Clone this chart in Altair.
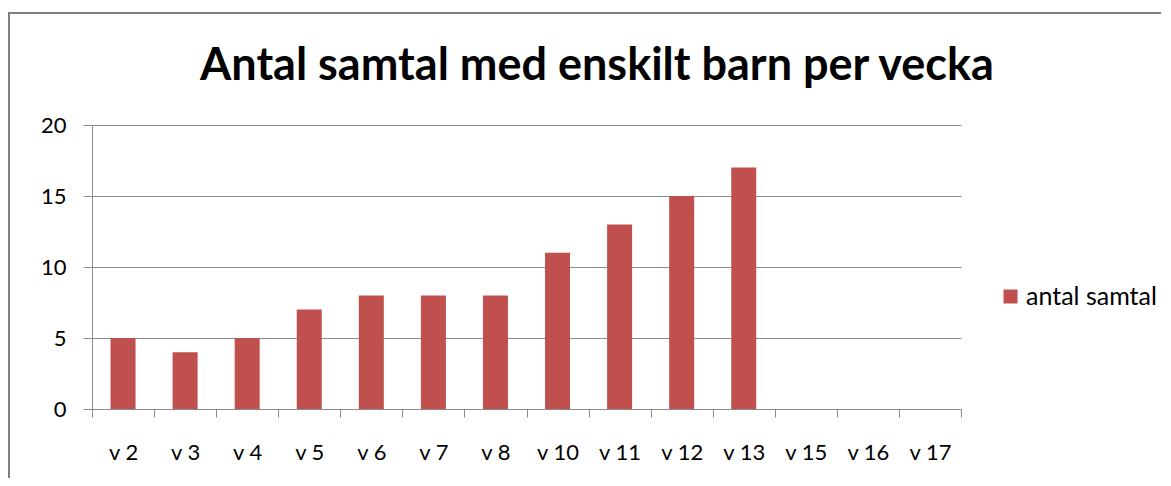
import altair as alt
import pandas as pd

weeks = ["v 2", "v 3", "v 4", "v 5", "v 6", "v 7", "v 8", "v 10", "v 11", "v 12", "v 13", "v 15", "v 16", "v 17"]
counts = [5, 4, 5, 7, 8, 8, 8, 11, 13, 15, 17, None, None, None]
series_name = "antal samtal"
title_text = "Antal samtal med enskilt barn per vecka"

df = pd.DataFrame({"vecka": weeks, "antal": counts, "serie": [series_name] * len(weeks)})

FONT = "Lato"
GRID = "#8C8C8C"

frame = alt.Chart(pd.DataFrame({"a": [0]})).mark_rect(
    fillOpacity=0, stroke="#7F7F7F", strokeWidth=2
).encode(
    x=alt.value(-83), x2=alt.value(1085), y=alt.value(-112), y2=alt.value(420)
)

title = alt.Chart(pd.DataFrame({"t": [title_text]})).mark_text(
    font=FONT, fontSize=45, fontWeight="bold", color="#000000", align="center", baseline="alphabetic"
).encode(text="t:N", x=alt.value(505), y=alt.value(-45))

bars = alt.Chart(df).mark_bar(size=25).encode(
    x=alt.X("vecka:N", sort=weeks, scale=alt.Scale(domain=weeks, paddingInner=0, paddingOuter=0),
            axis=alt.Axis(title=None, labelAngle=0, tickBand="extent", tickSize=8,
                          labelPadding=25, labelFontSize=22, labelFont=FONT, labelColor="#000000",
                          domainColor=GRID, tickColor=GRID, grid=False)),
    y=alt.Y("antal:Q", scale=alt.Scale(domain=[0, 20], nice=False),
            axis=alt.Axis(title=None, values=[0, 5, 10, 15, 20], tickSize=9, labelPadding=17,
                          labelFontSize=22, labelFont=FONT, labelColor="#000000",
                          domainColor=GRID, tickColor=GRID, gridColor=GRID, grid=True)),
    color=alt.Color("serie:N", scale=alt.Scale(domain=[series_name], range=["#C0504D"]),
                    legend=alt.Legend(title=None, orient="none", legendX=906, legendY=159,
                                      symbolType="square", symbolSize=196, symbolStrokeWidth=0,
                                      labelFontSize=25, labelFont=FONT, labelColor="#000000",
                                      labelOffset=3)),
)

chart = alt.layer(frame, bars, title).properties(
    width=869, height=284,
    autosize=alt.AutoSizeParams(type="none"),
    padding={"left": 84, "top": 117, "right": 200, "bottom": 69},
).configure_view(stroke=None)

chart.save("out.html", embed_options={"renderer": "svg", "actions": False})
